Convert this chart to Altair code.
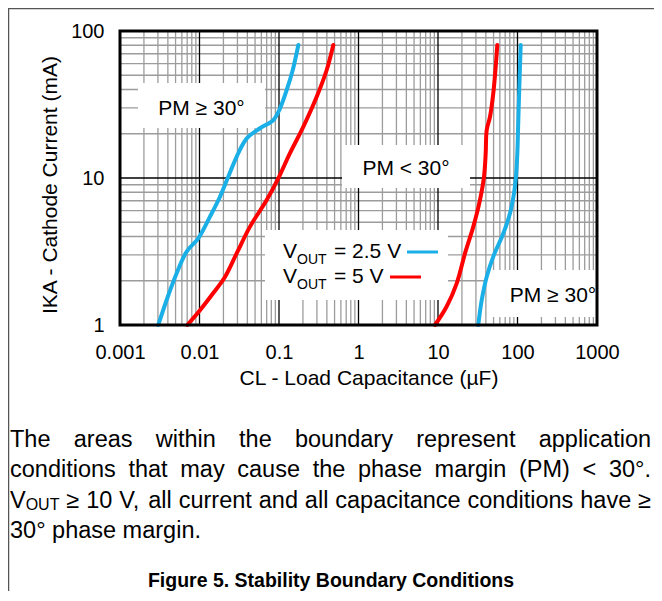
import altair as alt
import pandas as pd

FONT = "Liberation Sans, Arial, sans-serif"
BLUE = "#1AAFE6"
RED = "#FF0000"

# ---------------- data ----------------
x_ticks = [0.001, 0.01, 0.1, 1, 10, 100, 1000]
y_ticks = [1, 10, 100]

blue1_x = [0.00303, 0.00386, 0.00516, 0.0069, 0.00966, 0.01355, 0.0181, 0.0230, 0.0294, 0.0393, 0.0577, 0.0849, 0.103, 0.125, 0.149, 0.175]
blue1_y = [1.0, 1.48, 2.25, 3.16, 3.89, 5.46, 7.46, 10.2, 14.0, 18.6, 21.8, 24.8, 29.8, 39.7, 54.3, 80.3]
red1_x = [0.00703, 0.01014, 0.0149, 0.0210, 0.0294, 0.0432, 0.0700, 0.098, 0.137, 0.202, 0.298, 0.398, 0.482]
red1_y = [1.0, 1.26, 1.65, 2.13, 3.08, 4.67, 7.08, 9.95, 14.7, 22.3, 35.7, 54.3, 80.3]
red2_x = [9.16, 12.8, 17.2, 21.9, 27.8, 33.7, 37.9, 39.8, 41.0, 45.1, 49.6, 53.2, 55.7]
red2_y = [1.0, 1.33, 1.92, 3.08, 4.67, 7.08, 10.2, 14.7, 21.2, 26.1, 37.7, 57.2, 80.3]
blue2_x = [32.1, 35.5, 41.0, 49.6, 66.4, 80.5, 90.4, 95.7, 99.5, 102.4, 105.4, 109.7]
blue2_y = [1.0, 1.48, 2.13, 2.92, 4.21, 5.76, 7.87, 10.2, 14.7, 24.8, 41.8, 80.3]

curves = [("b1", "2.5 V", blue1_x, blue1_y), ("r1", "5 V", red1_x, red1_y),
          ("r2", "5 V", red2_x, red2_y), ("b2", "2.5 V", blue2_x, blue2_y)]

caption1 = "The areas within the boundary represent application"
caption2 = "conditions that may cause the phase margin (PM) < 30°."
caption3 = ["≥", "10", "V,", "all", "current", "and", "all", "capacitance", "conditions", "have", "≥"]
caption4 = "30° phase margin."
fig_title = "Figure 5. Stability Boundary Conditions"

# ---------------- layout ----------------
W, H = 477, 294
OX, OY = 120, 31  # page position of plot origin

xs = alt.Scale(type="log", domain=[0.001, 1000], nice=False)
ys = alt.Scale(type="log", domain=[1, 100], nice=False)

AX = alt.Axis(values=x_ticks, format="~g", title=None, grid=False, ticks=False, tickSize=0, domain=False,
              labelFont=FONT, labelFontSize=20, labelColor="black", labelPadding=17, labelOverlap=False,
              labelFlush=False)
AY = alt.Axis(values=y_ticks, format="~g", title=None, grid=False, ticks=False, tickSize=0, domain=False,
              labelFont=FONT, labelFontSize=20, labelColor="black", labelPadding=16, labelOverlap=False,
              labelFlush=False)

rows = []
for cid, v, xv, yv in curves:
    for i, (a, b) in enumerate(zip(xv, yv)):
        rows.append({"x": a, "y": b, "curve": cid, "vout": v, "ord": i})
df_curves = pd.DataFrame(rows)

x_minor = [k * t for t in x_ticks[:-1] for k in range(2, 10)]
y_minor = [k * t for t in y_ticks[:-1] for k in range(2, 10)]

xminor = alt.Chart(pd.DataFrame({"x": x_minor})).mark_rule(color="#9c9c9c", strokeWidth=1.3).encode(
    x=alt.X("x:Q", scale=xs, axis=AX))
xmajor = alt.Chart(pd.DataFrame({"x": x_ticks})).mark_rule(color="black", strokeWidth=1.3).encode(
    x=alt.X("x:Q", scale=xs, axis=AX))
yminor = alt.Chart(pd.DataFrame({"y": y_minor})).mark_rule(color="#9c9c9c", strokeWidth=1.3).encode(
    y=alt.Y("y:Q", scale=ys, axis=AY))
ymajor = alt.Chart(pd.DataFrame({"y": y_ticks})).mark_rule(color="black", strokeWidth=1.3).encode(
    y=alt.Y("y:Q", scale=ys, axis=AY))


def pix_rect(df, **kw):
    return alt.Chart(df).mark_rect(**kw).encode(
        x=alt.X("x1:Q", scale=None), x2="x2:Q",
        y=alt.Y("y1:Q", scale=None), y2="y2:Q")


boxes = pix_rect(pd.DataFrame({
    "x1": [18, 222, 145, 367], "x2": [145, 350, 328, 478],
    "y1": [52, 114, 199, 239], "y2": [97, 157, 269, 286]}), fill="white")

frame = pix_rect(pd.DataFrame({"x1": [0], "x2": [W], "y1": [0], "y2": [H]}),
                 filled=False, stroke="black", strokeWidth=3)

lines = alt.Chart(df_curves).mark_line(strokeWidth=4, interpolate="catmull-rom", strokeCap="round").encode(
    x=alt.X("x:Q", scale=xs, axis=AX),
    y=alt.Y("y:Q", scale=ys, axis=AY),
    color=alt.Color("vout:N", scale=alt.Scale(domain=["2.5 V", "5 V"], range=[BLUE, RED]), legend=None),
    detail="curve:N",
    order="ord:Q",
)


def pix_rule(df, **kw):
    return alt.Chart(df).mark_rule(**kw).encode(
        x=alt.X("x1:Q", scale=None), x2="x2:Q",
        y=alt.Y("y1:Q", scale=None), y2="y2:Q")


leg_blue = pix_rule(pd.DataFrame({"x1": [287], "x2": [318], "y1": [221], "y2": [221]}), color=BLUE, strokeWidth=3)
leg_red = pix_rule(pd.DataFrame({"x1": [270], "x2": [301], "y1": [246], "y2": [246]}), color=RED, strokeWidth=3)

border = pix_rule(pd.DataFrame({"x1": [-112, -111.5], "x2": [537, -111.5],
                                "y1": [-22.5, -23], "y2": [-22.5, 562]}), color="#555555", strokeWidth=1.5)


def text_layer(trows, **kw):
    df = pd.DataFrame(trows, columns=["px", "py", "t", "fs"])
    return alt.Chart(df).mark_text(font=FONT, color="black", baseline="alphabetic", **kw).encode(
        x=alt.X("px:Q", scale=None), y=alt.Y("py:Q", scale=None),
        text="t:N", size=alt.Size("fs:Q", scale=None, legend=None))


# Arial / Liberation Sans advance widths (1/1000 em)
AW = {" ": 278, "(": 333, ")": 333, ",": 278, ".": 278, "<": 584, "=": 584, "°": 400, "≥": 549}
for c in "0123456789":
    AW[c] = 556
AW.update(dict(zip("ABCDEFGHIJKLMNOPQRSTUVWXYZ",
                   [667, 667, 722, 722, 667, 611, 778, 722, 278, 500, 667, 556, 833, 722, 778, 667, 778, 722,
                    667, 611, 722, 667, 944, 667, 667, 611])))
AW.update(dict(zip("abcdefghijklmnopqrstuvwxyz",
                   [556, 556, 500, 556, 556, 278, 556, 556, 222, 222, 500, 222, 833, 556, 556, 556, 556, 333,
                    500, 278, 556, 500, 722, 500, 500, 500])))


def tw(s, size):
    return sum(AW.get(c, 556) for c in s) / 1000.0 * size


CS = 23.5    # caption font size
SS = 16      # caption subscript size
LEFT, RIGHT = 10, 651


def justify(widths):
    gap = (RIGHT - LEFT - sum(widths)) / (len(widths) - 1)
    out, x = [], LEFT
    for w in widths:
        out.append(x)
        x += w + gap
    return out


cap_rows, sub_rows = [], []
base = [447, 477, 508, 538]
for line, b in ((caption1, base[0]), (caption2, base[1])):
    words = line.split()
    for wd, x in zip(words, justify([tw(w, CS) for w in words])):
        cap_rows.append((x - OX, b - OY, wd, CS))
# third line with subscript
w0 = tw("V", CS) + tw("OUT", SS)
xs3 = justify([w0] + [tw(w, CS) for w in caption3])
cap_rows.append((xs3[0] - OX, base[2] - OY, "V", CS))
sub_rows.append((xs3[0] + tw("V", CS) - OX, base[2] + 2 - OY, "OUT", SS))
for wd, x in zip(caption3, xs3[1:]):
    cap_rows.append((x - OX, base[2] - OY, wd, CS))
cap_rows.append((LEFT - OX, base[3] - OY, caption4, CS))

captions = text_layer(cap_rows, align="left")
cap_sub = text_layer(sub_rows, align="left")
title = text_layer([(331 - OX, 587 - OY, fig_title, 19.5)], align="center", fontWeight="bold")

pm_text = text_layer([(81.5, 84, "PM ≥ 30°", 21), (286, 144, "PM < 30°", 21), (433, 271, "PM ≥ 30°", 21)],
                     align="center")
leg_main = text_layer([(163, 227, "V", 21), (214, 227, "= 2.5 V", 21), (163, 252, "V", 21), (214, 252, "= 5 V", 21)],
                      align="left")
leg_sub = text_layer([(177, 233, "OUT", 14), (177, 258, "OUT", 14)], align="left")

x_title = text_layer([(249, 354, "CL - Load Capacitance (µF)", 21)], align="center")
y_title = text_layer([(-63, 154, "IKA - Cathode Current (mA)", 21)], align="center", angle=270)

chart = alt.layer(
    xminor, yminor, xmajor, ymajor, boxes, lines, frame, leg_blue, leg_red,
    pm_text, leg_main, leg_sub, x_title, y_title, captions, cap_sub, title, border,
).properties(
    width=W, height=H,
    autosize=alt.AutoSizeParams(type="none"),
    padding={"left": 112, "top": 23, "right": 57, "bottom": 266},
    background="white",
).configure_view(stroke=None)

chart.save("out.html", embed_options={"renderer": "svg", "actions": False})
